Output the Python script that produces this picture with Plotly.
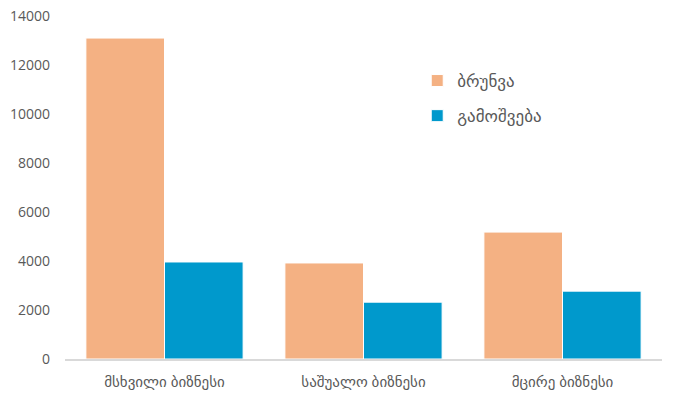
import plotly.graph_objects as go

categories = ["მსხვილი ბიზნესი", "საშუალო ბიზნესი", "მცირე ბიზნესი"]
series_names = ["ბრუნვა", "გამოშვება"]
turnover = [13100, 3920, 5180]
output = [3960, 2320, 2770]
colors = ["#F4B183", "#0099CC"]
y_ticks = [0, 2000, 4000, 6000, 8000, 10000, 12000, 14000]
y_tick_text = [str(v) for v in y_ticks]

fig = go.Figure()
for i, (name, vals, col) in enumerate(zip(series_names, [turnover, output], colors)):
    fig.add_trace(go.Bar(x=categories, y=vals, name=name, legendgroup=f"g{i}",
                         marker=dict(color=col, line=dict(color="white", width=1))))

fig.update_layout(
    width=675, height=393,
    margin=dict(l=65, r=13, t=16, b=34),
    barmode="group", bargap=0.21, bargroupgap=0.0,
    plot_bgcolor="white", paper_bgcolor="white",
    font=dict(family="Open Sans, DejaVu Sans, sans-serif", size=14, color="#595959"),
    legend=dict(x=0.59, y=0.863, xanchor="left", yanchor="top",
                font=dict(size=17, color="#595959"), itemwidth=30,
                tracegroupgap=10, bgcolor="rgba(0,0,0,0)"),
    showlegend=True,
)
fig.update_xaxes(showline=True, linecolor="#D9D9D9", linewidth=1.5, ticks="",
                 showgrid=False, tickfont=dict(size=15), ticklabelstandoff=8,
                 automargin=False)
fig.update_yaxes(range=[0, 14000], tickvals=y_ticks, ticktext=y_tick_text,
                 showgrid=False, zeroline=False, showline=False, ticks="",
                 tickfont=dict(size=14), ticklabelstandoff=14, automargin=False)

fig.write_html("out.html")
